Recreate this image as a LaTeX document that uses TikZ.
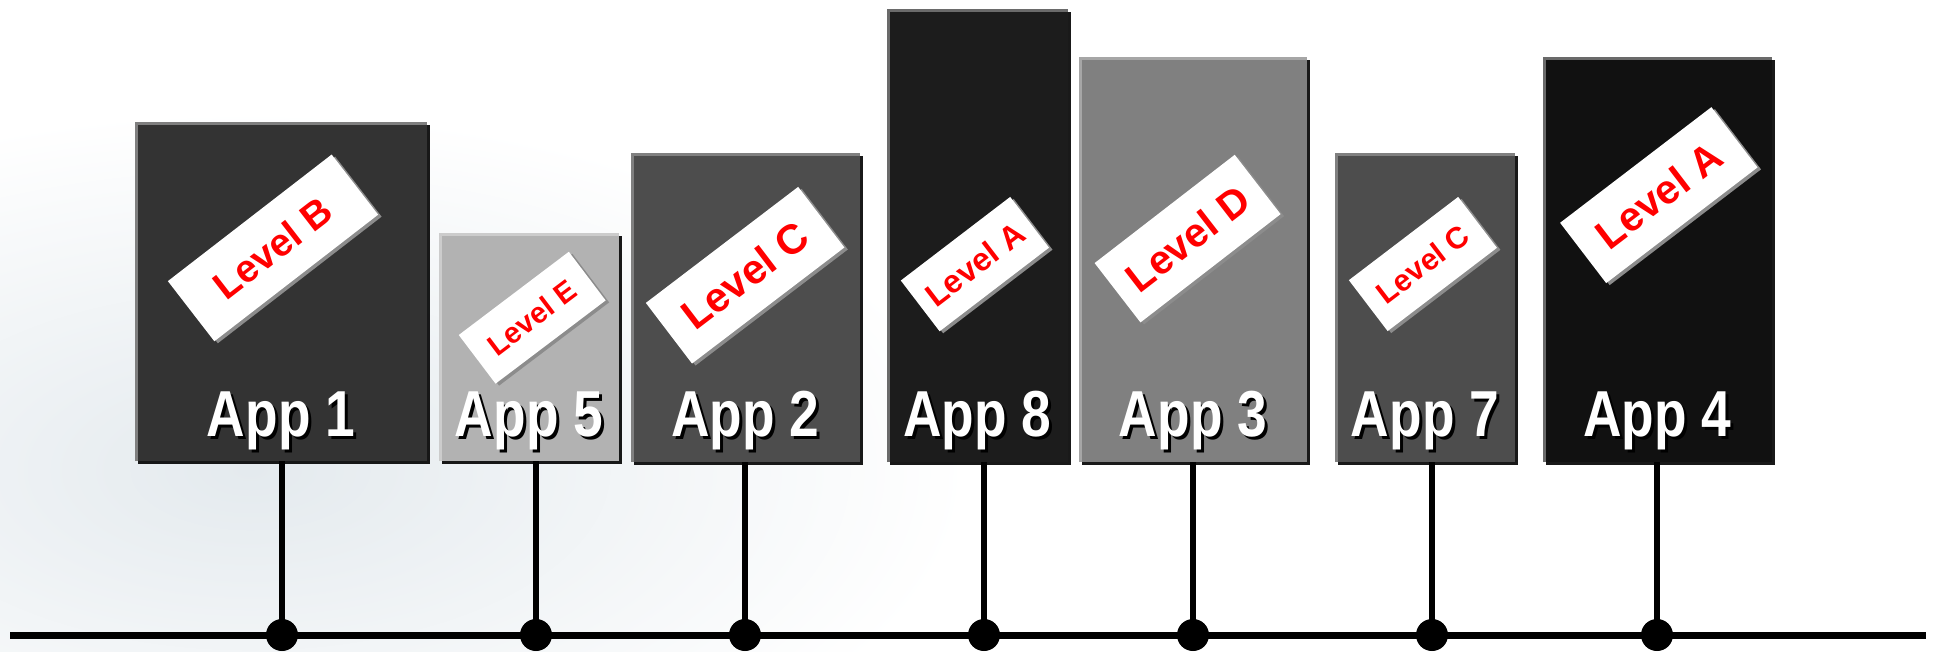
\documentclass[tikz,border=0pt]{standalone}
\usepackage{fontspec}
\usepackage{graphicx}
\setmainfont{Liberation Sans}
\usetikzlibrary{shadows}
\definecolor{bgcloud}{HTML}{E4EAEE}
\definecolor{tagshade}{HTML}{8C8C8C}
\definecolor{tagred}{HTML}{FF0000}
\newcommand\AppTag[8]{%
  \node[tagshadow, rotate=#6, minimum width=#4pt, minimum height=#5pt] at (#2+3.5,#3+2) {};
  \node[tagbox, rotate=#6, minimum width=#4pt, minimum height=#5pt,
        font=\bfseries\fontsize{#7}{#7}\selectfont] (#1) at (#2,#3) {#8};
}
\newcommand\AppText[4]{%
  \node[appshadow] at (#2+3,#3+3) {\scalebox{0.82}[1]{#4}};
  \node[applabel] (#1) at (#2,#3) {\scalebox{0.82}[1]{#4}};
}
\begin{document}
\begin{tikzpicture}[x=1pt,y=-1pt,
  appbox/.style={rectangle, inner sep=0pt, draw=none,
    drop shadow={shadow xshift=3pt, shadow yshift=-3pt, fill=black, opacity=0.9}},
  edgehi/.style={line width=3pt},
  applabel/.style={text=white, font=\bfseries\fontsize{65}{65}\selectfont, inner sep=0pt, anchor=base},
  appshadow/.style={applabel, text=black},
  tagbox/.style={rectangle, fill=white, inner sep=0pt, text=tagred},
  tagshadow/.style={rectangle, fill=tagshade, inner sep=0pt},
  link/.style={line width=6pt},
  bus/.style={line width=7pt},
  junction/.style={circle, fill=black, minimum size=32pt, inner sep=0pt}
]
\useasboundingbox (0,0) rectangle (1936,651);
\fill[white] (0,0) rectangle (1936,651);
\begin{scope}
  \clip (0,0) rectangle (1936,651);
  \shade[inner color=bgcloud, outer color=white] (250,470) ellipse (720 and 360);
\end{scope}

% application boxes
\node[appbox, fill={rgb,255:red,51;green,51;blue,51}, minimum width=292pt, minimum height=339pt] (a1) at (281,291.5) {};
\node[appbox, fill={rgb,255:red,178;green,178;blue,178}, minimum width=180pt, minimum height=228pt] (a5) at (529,347) {};
\node[appbox, fill={rgb,255:red,77;green,77;blue,77}, minimum width=229pt, minimum height=309pt] (a2) at (745.5,307.5) {};
\node[appbox, fill={rgb,255:red,28;green,28;blue,28}, minimum width=181pt, minimum height=453pt] (a8) at (977.5,235.5) {};
\node[appbox, fill={rgb,255:red,128;green,128;blue,128}, minimum width=228pt, minimum height=405pt] (a3) at (1193,259.5) {};
\node[appbox, fill={rgb,255:red,77;green,77;blue,77}, minimum width=180pt, minimum height=309pt] (a7) at (1425,307.5) {};
\node[appbox, fill={rgb,255:red,17;green,17;blue,17}, minimum width=229pt, minimum height=405pt] (a4) at (1657.5,259.5) {};

% highlight edges (top and left)
\foreach \b/\c in {a1/7F7F7F, a5/CCCCCC, a2/808080, a8/6A6A6A, a3/A6A6A6, a7/808080, a4/6A6A6A}{
  \definecolor{hi}{HTML}{\c}
  \draw[edgehi, draw=hi] ([xshift=1.5pt]\b.south west) -- ([xshift=1.5pt,yshift=-1.5pt]\b.north west) -- ([yshift=-1.5pt]\b.north east);
}

% level tags
\AppTag{t1}{273}{247.9}{207}{76}{37.7}{38.8}{Level B}
\AppTag{t5}{532.2}{317.7}{138}{61}{37.1}{29.4}{Level E}
\AppTag{t2}{745.1}{275.2}{191.5}{76.2}{37.3}{41.5}{Level C}
\AppTag{t8}{974.9}{264.1}{137.7}{63.9}{37.4}{32.3}{Level A}
\AppTag{t3}{1187.6}{238.6}{177.1}{75}{37.7}{40.5}{Level D}
\AppTag{t7}{1422.9}{264}{137.4}{64}{37.3}{30.3}{Level C}
\AppTag{t4}{1658.8}{195.1}{190.5}{75.9}{37.4}{41}{Level A}

% application labels
\AppText{l1}{281}{436}{App 1}
\AppText{l5}{529}{436}{App 5}
\AppText{l2}{745.5}{436}{App 2}
\AppText{l8}{977.5}{436}{App 8}
\AppText{l3}{1193}{436}{App 3}
\AppText{l7}{1425}{436}{App 7}
\AppText{l4}{1657.5}{436}{App 4}

% bus and connections
\coordinate (busL) at (10,635);
\coordinate (busR) at (1926,635);
\coordinate (j1) at (282,635);
\coordinate (j5) at (536,635);
\coordinate (j2) at (745,635);
\coordinate (j8) at (984,635);
\coordinate (j3) at (1193,635);
\coordinate (j7) at (1432,635);
\coordinate (j4) at (1657,635);
\draw[bus] (busL) -- (busR);
\foreach \a/\j in {a1/j1, a5/j5, a2/j2, a8/j8, a3/j3, a7/j7, a4/j4}{
  \draw[link] (\a.south -| \j) -- (\j);
  \node[junction] at (\j) {};
}
\end{tikzpicture}
\end{document}
